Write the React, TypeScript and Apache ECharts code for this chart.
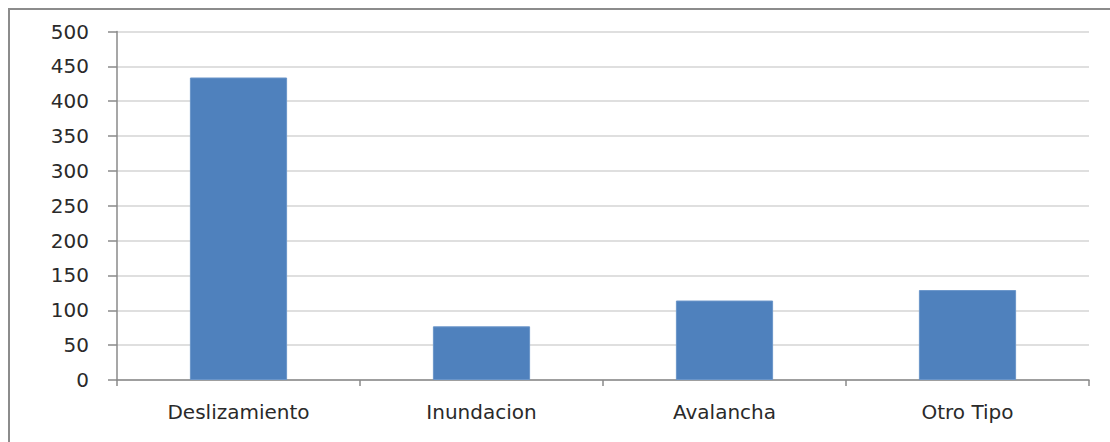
import React, { useEffect, useRef } from "react";
import * as echarts from "echarts";

const categories = ["Deslizamiento", "Inundacion", "Avalancha", "Otro Tipo"];
const values = [434, 77, 114, 129];
const yMin = 0;
const yMax = 500;
const yInterval = 50;

export default function App() {
  const ref = useRef<HTMLDivElement>(null);
  useEffect(() => {
    if (!ref.current) return;
    const chart = echarts.init(ref.current, undefined, { renderer: "svg" });
    const font = "'DejaVu Sans', Verdana, sans-serif";
    chart.setOption({
      animation: false,
      grid: { left: 117, top: 31.5, right: 21, bottom: 62, containLabel: false },
      xAxis: {
        type: "category",
        data: categories,
        axisLine: { show: true, lineStyle: { color: "#8a8a8a", width: 1.5 } },
        axisTick: { show: true, length: 6, lineStyle: { color: "#8a8a8a", width: 1.5 } },
        axisLabel: { color: "#2a2a2a", fontSize: 20, fontFamily: font, margin: 22 },
        splitLine: { show: false },
      },
      yAxis: {
        type: "value",
        min: yMin,
        max: yMax,
        interval: yInterval,
        axisLine: { show: true, lineStyle: { color: "#8a8a8a", width: 1.5 } },
        axisTick: { show: true, length: 9, lineStyle: { color: "#8a8a8a", width: 1.5 } },
        axisLabel: { color: "#2a2a2a", fontSize: 20, fontFamily: font, margin: 28 },
        splitLine: { show: true, lineStyle: { color: "#d4d4d4", width: 1.5 } },
      },
      series: [
        {
          type: "bar",
          data: values,
          barWidth: "40%",
          itemStyle: { color: "#4f81bd", borderColor: "#6a95c9", borderWidth: 1 },
        },
      ],
    });
    return () => chart.dispose();
  }, []);
  return (
    <div style={{ position: "fixed", left: 0, top: 0, width: 1110, height: 442, overflow: "hidden", background: "#fff" }}>
      <div
        style={{
          position: "absolute",
          left: 8,
          top: 8,
          width: 1200,
          height: 500,
          border: "2px solid #8c8c8c",
          boxSizing: "border-box",
        }}
      />
      <div ref={ref} style={{ position: "absolute", left: 0, top: 0, width: 1110, height: 442 }} />
    </div>
  );
}
